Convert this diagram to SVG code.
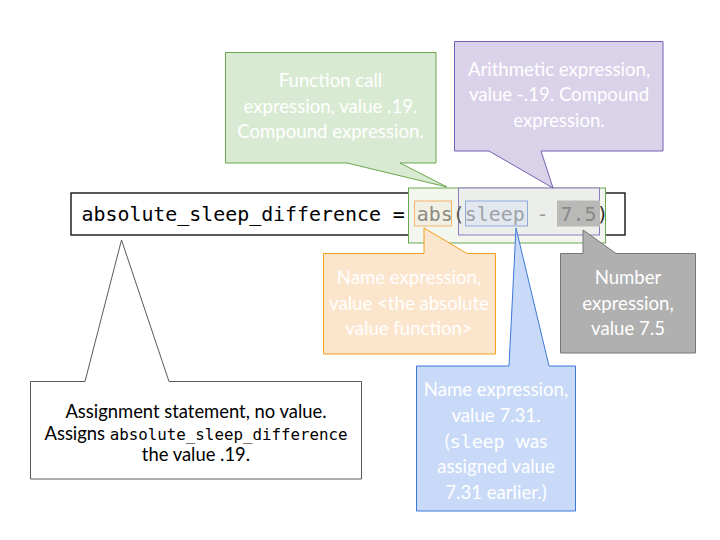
<svg xmlns="http://www.w3.org/2000/svg" width="720" height="540" viewBox="0 0 720 540">
<style>
.lbl{font-family:Lato,"Noto Sans","Liberation Sans",sans-serif;font-size:18.6px;fill:#ffffff;text-anchor:middle}
.mono{font-family:"DejaVu Sans Mono","Liberation Mono",monospace}
.dark{font-family:Lato,"Noto Sans","Liberation Sans",sans-serif;font-size:18.4px;fill:#000000;text-anchor:middle}
</style>
<rect width="720" height="540" fill="#ffffff"/>
<g id="code">
<rect x="71" y="193" width="554" height="42" fill="#ffffff" stroke="#000000" stroke-width="1.3"/>
<rect id="call-box" x="408.5" y="188" width="197" height="55" fill="#f2f6ef" stroke="#6aa84f" stroke-width="1"/>
<rect id="arith-box" x="458.5" y="188" width="141" height="47" fill="#eceeec" stroke="#8e7cc3" stroke-width="1"/>
<rect id="abs-box" x="414.5" y="201" width="37" height="25" fill="#f2efe5" stroke="#f6b26b" stroke-width="1"/>
<rect id="sleep-box" x="465.5" y="201" width="62" height="25" fill="#e3e8ef" stroke="#8eaadb" stroke-width="1"/>
<rect id="num-box" x="557.5" y="201" width="42" height="25" fill="#b9b9b7" stroke="#b9b9b7" stroke-width="1"/>
<text class="mono" x="81.5" y="221" font-size="19.9" fill="#000000">absolute_sleep_difference = <tspan fill="#8b8b80">abs</tspan><tspan fill="#555555">(</tspan><tspan fill="#9da2a8">sleep</tspan><tspan fill="#999999"> - </tspan><tspan fill="#888888">7.5</tspan><tspan fill="#333333">)</tspan></text>
</g>
<g id="function-call">
<path d="M225.5,52.5 H436 V163 H400 L447,187 L347,163 H225.5 Z" fill="#d9ead3" stroke="#6aa84f" stroke-width="1"/>
<text class="lbl" x="330.5" y="86.5">Function call</text>
<text class="lbl" x="330.5" y="112.5">expression, value .19.</text>
<text class="lbl" x="330.5" y="138">Compound expression.</text>
</g>
<g id="arithmetic">
<path d="M454.5,41.5 H663 V151 H541 L553,188 L489,151 H454.5 Z" fill="#d9d2e9" stroke="#7460b4" stroke-width="1"/>
<text class="lbl" x="559" y="75.5">Arithmetic expression,</text>
<text class="lbl" x="559" y="101">value -.19. Compound</text>
<text class="lbl" x="559" y="127">expression.</text>
</g>
<g id="abs-name">
<path d="M323.5,253.5 H424 V228 L467,253.5 H495.5 V354 H323.5 Z" fill="#fce5cd" stroke="#f59f1b" stroke-width="1"/>
<text class="lbl" x="409" y="284">Name expression,</text>
<text class="lbl" x="409" y="309.5">value &lt;the absolute</text>
<text class="lbl" x="409" y="335">value function&gt;</text>
</g>
<g id="sleep-name">
<path d="M416.5,366 H509 L516,228 L549,366 H575.5 V511 H416.5 Z" fill="#c9daf8" stroke="#3c78d8" stroke-width="1"/>
<text class="lbl" x="496" y="396">Name expression,</text>
<text class="lbl" x="496" y="421.5">value 7.31.</text>
<text class="lbl" x="496" y="447.5">(<tspan class="mono" font-size="18.2">sleep </tspan>was</text>
<text class="lbl" x="496" y="473">assigned value</text>
<text class="lbl" x="496" y="499">7.31 earlier.)</text>
</g>
<g id="number">
<path d="M560.5,253.5 H583 V230 L616,253.5 H695.5 V353 H560.5 Z" fill="#b0b0b0" stroke="#777777" stroke-width="1"/>
<text class="lbl" x="628" y="284">Number</text>
<text class="lbl" x="628" y="309.5">expression,</text>
<text class="lbl" x="628" y="335">value 7.5</text>
</g>
<g id="assignment">
<path d="M30.5,381.5 H85 L121.5,240 L169,381.5 H361.5 V479 H30.5 Z" fill="#ffffff" stroke="#595959" stroke-width="1"/>
<text class="dark" x="196" y="417.5">Assignment statement, no value.</text>
<text class="dark" x="196" y="439.5">Assigns <tspan class="mono" font-size="15.8">absolute_sleep_difference</tspan></text>
<text class="dark" x="196" y="460.5">the value .19.</text>
</g>
</svg>
